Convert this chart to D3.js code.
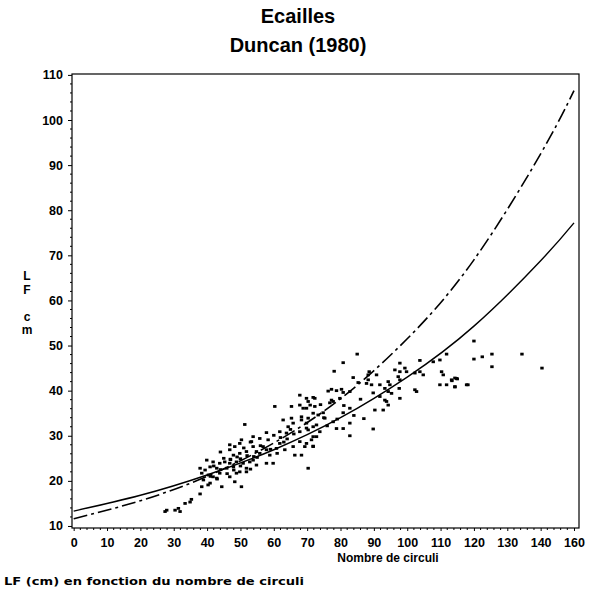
<!DOCTYPE html>
<html><head><meta charset="utf-8">
<script src="https://cdnjs.cloudflare.com/ajax/libs/d3/7.8.5/d3.min.js"></script>
<style>body{margin:0;background:#fff;} text{font-family:"Liberation Sans",Arial,sans-serif;font-weight:bold;fill:#000;}</style>
</head><body><svg id="c" width="589" height="590"></svg>
<script>
const title1 = "Ecailles";
const title2 = "Duncan (1980)";
const xTitle = "Nombre de circuli";
const footnote = "LF (cm) en fonction du nombre de circuli";
const yLetters = ["L","F","","c","m"];
const xTickValues = [0,10,20,30,40,50,60,70,80,90,100,110,120,130,140,150];
const xTickLabels = ["0","10","20","30","40","50","60","70","80","90","100","110","120","130","140","160"];
const yTickValues = [10,20,30,40,50,60,70,80,90,100,110];

const circuli = [27.9,27.4,30.4,31.4,31.9,34.9,33.4,35.3,37.9,
44.4,48.3,50.3,40.3,41.8,
38.4,40.4,43.8,42.9,46.8,48.8,51.8,38.9,40.9,38.4,
39.9,41.8,43.8,45.3,46.8,48.8,50.8,52.8,54.8,53.8,57.8,59.8,37.9,39.4,40.9,42.9,45.9,47.9,49.8,51.8,
46.8,47.9,49.8,51.8,53.8,54.8,55.8,56.8,57.8,58.8,60.8,61.8,63.3,65.8,67.8,69.3,71.3,72.8,
57.8,58.3,55.8,53.8,53.3,50.3,46.8,48.3,49.8,
62.8,65.3,64.3,65.8,68.3,69.8,67.8,63.8,61.8,69.8,72.8,
51.3,60.3,65.3,67.8,67.8,69.8,71.8,
70.3,68.3,66.3,71.8,
85,80.8,78.1,88.6,88.3,90.8,83.8,85.3,88.3,87.8,89.3,77.3,76.3,78.8,80.3,80.8,82.8,77.3,77.8,76.8,79.8,72.3,70.3,
72.3,71.8,74.8,69.8,80.8,82.8,
91.8,93.3,94.3,94.8,89.8,91.8,93.3,93.8,94.3,92.8,90.3,
97.8,96.3,97.8,99.3,99.8,97.3,97.8,97.6,97.8,94.3,95.3,
102.3,103.8,104.8,102.3,102.8,
103.8,107.8,109.8,111.8,
110.3,110.8,109.8,111.8,113.3,114.8,114.3,117.8,
89.8,82.8,71.8,
68.8,70.9,68.3,70.3,71.8,73.3,75.3,77.8,78.8,80.8,73.8,70.3,71.8,69.8,82.8,
120,120,122.5,125.4,125.4,134.4,140.4,114.3,115,113.4,114.3,118.2,
42,44,45,47,49,50,52,53,55,56,43,46,48,51,54,41,44,47,50,53,
60,62,64,66,59,61,63,65,75,76,79,81,84,86,74,87];
const lf = [13.5,13.2,13.5,13.9,13.2,15.3,15.0,15.9,17.1,
18.7,19.8,18.7,19.1,20.9,
21.7,21.3,21.7,20.6,20.9,21.7,22.0,20.2,19.5,18.7,
24.6,24.2,23.9,24.2,23.9,24.2,23.9,24.2,23.5,24.6,23.9,23.9,22.8,22.4,23.1,22.8,22.8,23.1,22.0,22.8,
26.9,25.7,26.1,26.5,27.6,26.5,26.1,27.6,26.9,25.7,27.2,28.3,26.9,27.6,28.7,27.6,29.1,29.8,
30.7,29.1,29.4,29.8,28.7,29.1,28.0,27.6,28.3,
33.5,33.9,32.0,32.8,34.2,32.8,30.9,30.6,30.9,31.7,32.4,
32.5,36.5,36.5,36.8,39.0,38.3,38.5,
22.8,25.7,25.7,27.6,
48.1,46.2,44.3,44.2,43.5,43.5,42.9,41.8,42.4,41.6,41.3,40.3,39.9,40.0,40.3,39.6,39.8,37.9,37.6,37.3,38.3,38.3,37.6,
36.5,35.0,35.1,36.1,35.1,36.1,
41.3,40.5,42.0,41.3,39.5,38.7,37.9,37.6,36.8,35.7,35.7,
46.1,44.6,44.2,45.0,44.2,43.1,42.4,40.5,38.3,39.8,39.4,
43.9,44.2,43.5,40.2,39.8,
46.7,46.4,46.8,48.1,
44.2,43.5,41.3,41.3,42.4,42.7,40.9,41.3,
31.5,30.0,27.7,
36.1,36.8,33.5,33.9,32.0,34.6,33.9,33.1,31.6,31.6,30.9,31.3,29.8,28.3,32.8,
51,47,47.5,48.1,45.3,48.1,45,42.8,42.6,42.2,40.8,41.3,
23.3,22.5,25.0,24.8,25.3,23.3,25.6,22.6,25.2,27.8,20.4,21.6,22.4,27.3,25.4,21.0,26.4,24.7,24.9,28.6,
30.1,29.6,29.3,30.4,27.0,26.1,28.6,31.4,34.0,32.2,33.7,36.7,34.5,38.1,36.9,33.8];

const curveX = [0,20,40,60,80,100,120,140,150];
const solidLF = [13.3,16.8,21.3,26.9,34.0,43.0,54.3,68.8,77.2];
const dashedLF = [11.6,15.6,21.0,28.4,38.2,51.5,69.0,92.5,106.5];

const svg = d3.select("#c");
const x = d3.scaleLinear().domain([-0.5,151.5]).range([72,579]);
const y = d3.scaleLinear().domain([9.55,110.2]).range([528,74]);

// titles
svg.append("text").attr("x",298).attr("y",23).attr("text-anchor","middle").style("font-size","20px").text(title1);
svg.append("text").attr("x",298).attr("y",52).attr("text-anchor","middle").style("font-size","20px").text(title2);

// frame
svg.append("rect").attr("x",72).attr("y",74).attr("width",507).attr("height",454)
  .attr("fill","none").attr("stroke","#000").attr("stroke-width",1.2);

// axes
const xAxis = d3.axisBottom(x).tickValues(xTickValues).tickSize(3)
  .tickFormat((d,i)=>xTickLabels[i]);
const gx = svg.append("g").attr("transform","translate(0,528)").call(xAxis);
gx.select(".domain").remove();
gx.selectAll("text").attr("dy","1.05em").style("font-size","12.5px").style("font-family","Liberation Sans, Arial").style("font-weight","bold");
const yAxis = d3.axisLeft(y).tickValues(yTickValues).tickSize(4);
const gy = svg.append("g").attr("transform","translate(72,0)").call(yAxis);
gy.select(".domain").remove();
gy.selectAll("text").attr("dx","-2").style("font-size","12.5px").style("font-family","Liberation Sans, Arial").style("font-weight","bold");

// minor ticks
svg.append("g").selectAll("line").data(d3.range(12,110,2).filter(v=>v%10!==0)).join("line")
  .attr("x1",70).attr("x2",72).attr("y1",d=>y(d)).attr("y2",d=>y(d)).attr("stroke","#000");
svg.append("g").selectAll("line").data(d3.range(2,151,2).filter(v=>v%10!==0)).join("line")
  .attr("x1",d=>x(d)).attr("x2",d=>x(d)).attr("y1",528).attr("y2",530).attr("stroke","#000");

// curves
const line = (arr)=>d3.line().x((d,i)=>x(curveX[i])).y(d=>y(d)).curve(d3.curveNatural)(arr);
svg.append("path").attr("d",line(solidLF)).attr("fill","none").attr("stroke","#000").attr("stroke-width",1.4);
svg.append("path").attr("d",line(dashedLF)).attr("fill","none").attr("stroke","#000").attr("stroke-width",1.6)
  .attr("stroke-dasharray","14,4,3,4");

// points
svg.append("g").selectAll("rect").data(circuli).join("rect")
  .attr("x",(d)=>x(d)-1.7).attr("y",(d,i)=>y(lf[i])-1.4).attr("width",3.4).attr("height",2.8).attr("fill","#000");

// y label letters
svg.append("g").selectAll("text").data(yLetters).join("text")
  .attr("x",27).attr("y",(d,i)=>280+i*13.5).attr("text-anchor","middle").style("font-size","12px").text(d=>d);

svg.append("text").attr("x",388).attr("y",562).attr("text-anchor","middle").style("font-size","12px").text(xTitle);
svg.append("text").attr("x",4).attr("y",585).attr("textLength",300).attr("lengthAdjust","spacingAndGlyphs")
  .style("font-family","DejaVu Sans, sans-serif").style("font-size","11px").text(footnote);
</script></body></html>
